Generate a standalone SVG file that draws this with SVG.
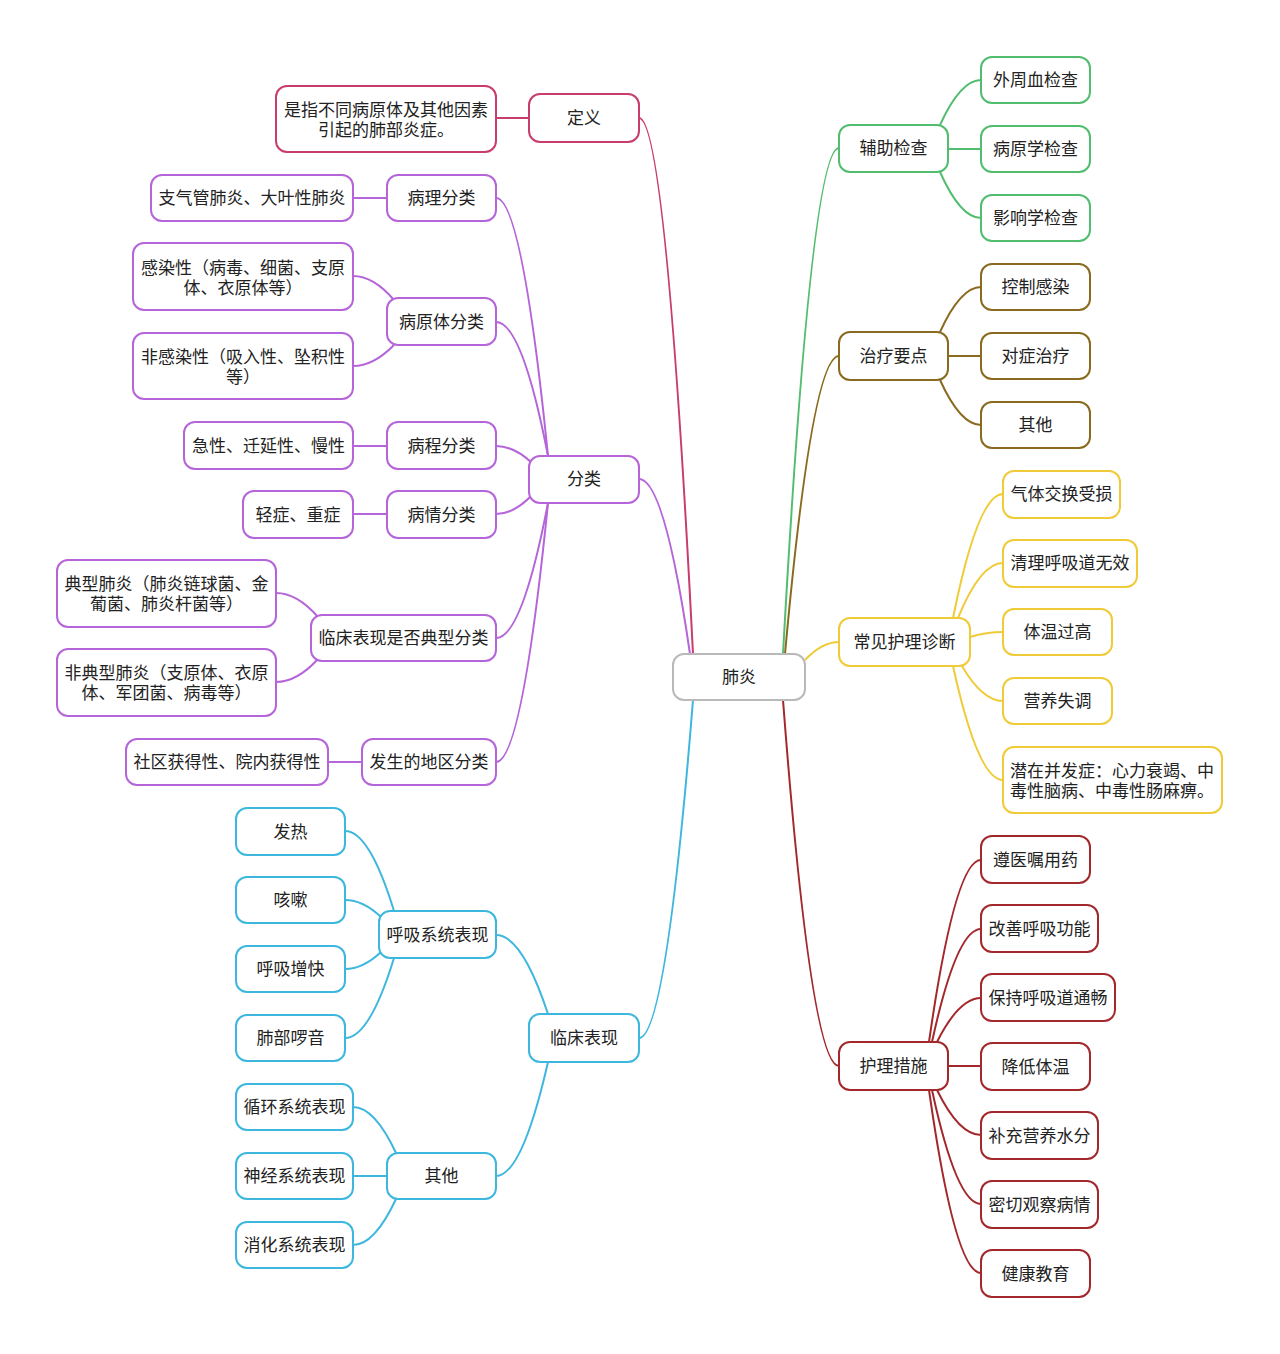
<svg xmlns="http://www.w3.org/2000/svg" width="1280" height="1354" viewBox="0 0 1280 1354">
<style>
text{font-family:"Noto Sans CJK SC","Noto Sans",sans-serif;font-size:17px;fill:#222;text-anchor:middle}
rect{fill:#fff;stroke-width:2}
path{fill:none;stroke-width:2}
.root rect{stroke:#b9b9b9}
.def rect{stroke:#c83c6e}.def path,path.def{stroke:#c83c6e}
.cls rect{stroke:#b565d9}path.cls{stroke:#b565d9}
.cli rect{stroke:#3db7de}path.cli{stroke:#3db7de}
.aux rect{stroke:#52bd6e}path.aux{stroke:#52bd6e}
.tre rect{stroke:#8a6a1e}path.tre{stroke:#8a6a1e}
.dia rect{stroke:#f0cb38}path.dia{stroke:#f0cb38}
.nur rect{stroke:#a3282c}path.nur{stroke:#a3282c}
</style>
<rect x="0" y="0" width="1280" height="1354" style="fill:#fff;stroke:none"/>
<g id="connectors">
<path class="def" d="M693 654 Q666 118 639 118"/>
<path class="cls" d="M690 654 Q664.5 479 639 479"/>
<path class="cli" d="M693 700 Q666 1038 639 1038"/>
<path class="aux" d="M783 654 Q811 148 839 148"/>
<path class="tre" d="M785 654 Q812 356 839 356"/>
<path class="dia" d="M805 660 Q822 642 839 642"/>
<path class="nur" d="M783 700 Q811 1066 839 1066"/>
<path class="def" d="M496 118 L529 118"/>
<path class="cls" d="M548 456 Q522 198 496 198"/>
<path class="cls" d="M548 456 Q522 322 496 322"/>
<path class="cls" d="M532 463 Q514 446 496 446"/>
<path class="cls" d="M532 495 Q514 514 496 514"/>
<path class="cls" d="M548 503 Q522 638 496 638"/>
<path class="cls" d="M548 503 Q522 762 496 762"/>
<path class="cls" d="M353 198 L387 198"/>
<path class="cls" d="M394 300 Q373.5 276 353 276"/>
<path class="cls" d="M394 345 Q373.5 366 353 366"/>
<path class="cls" d="M353 446 L387 446"/>
<path class="cls" d="M353 514 L387 514"/>
<path class="cls" d="M318 617 Q297 593 276 593"/>
<path class="cls" d="M318 659 Q297 682 276 682"/>
<path class="cls" d="M328 762 L362 762"/>
<path class="cli" d="M548 1014 Q522 935 496 935"/>
<path class="cli" d="M548 1062 Q522 1176 496 1176"/>
<path class="cli" d="M394 911 Q369.5 831 345 831"/>
<path class="cli" d="M381 917 Q363 900 345 900"/>
<path class="cli" d="M381 952 Q363 969 345 969"/>
<path class="cli" d="M394 958 Q369.5 1038 345 1038"/>
<path class="cli" d="M396 1153 Q374.5 1107 353 1107"/>
<path class="cli" d="M387 1176 L353 1176"/>
<path class="cli" d="M396 1199 Q374.5 1245 353 1245"/>
<path class="aux" d="M940 125 Q960.5 80 981 80"/>
<path class="aux" d="M948 149 L981 149"/>
<path class="aux" d="M940 172 Q960.5 218 981 218"/>
<path class="tre" d="M940 332 Q960.5 287 981 287"/>
<path class="tre" d="M948 356 L981 356"/>
<path class="tre" d="M940 380 Q960.5 425 981 425"/>
<path class="dia" d="M953 618 Q978 494 1003 494"/>
<path class="dia" d="M958 618 Q980.5 563 1003 563"/>
<path class="dia" d="M970 637 Q986.5 632 1003 632"/>
<path class="dia" d="M962 666 Q982.5 701 1003 701"/>
<path class="dia" d="M953 666 Q978 780 1003 780"/>
<path class="nur" d="M929 1042 Q955 860 981 860"/>
<path class="nur" d="M932 1042 Q956.5 929 981 929"/>
<path class="nur" d="M937 1042 Q959 998 981 998"/>
<path class="nur" d="M948 1066 L981 1066"/>
<path class="nur" d="M937 1090 Q959 1135 981 1135"/>
<path class="nur" d="M932 1090 Q956.5 1204 981 1204"/>
<path class="nur" d="M929 1090 Q955 1273 981 1273"/>
</g>
<g id="root" class="root"><rect x="673" y="654" width="132" height="46" rx="11"/><text x="739" y="683">肺炎</text></g>
<g id="n-def" class="def"><rect x="529" y="94" width="110" height="48" rx="11"/><text x="584" y="124">定义</text></g>
<g id="n-def-1" class="def"><rect x="276" y="86" width="220" height="66" rx="11"/><text x="386" y="116">是指不同病原体及其他因素</text><text x="386" y="136">引起的肺部炎症。</text></g>
<g id="n-cls" class="cls"><rect x="529" y="456" width="110" height="47" rx="11"/><text x="584" y="485">分类</text></g>
<g id="n-cls-1" class="cls"><rect x="387" y="175" width="109" height="46" rx="11"/><text x="441.5" y="204">病理分类</text></g>
<g id="n-cls-1-1" class="cls"><rect x="151" y="175" width="202" height="46" rx="11"/><text x="252" y="204">支气管肺炎、大叶性肺炎</text></g>
<g id="n-cls-2" class="cls"><rect x="387" y="298" width="109" height="47" rx="11"/><text x="441.5" y="328">病原体分类</text></g>
<g id="n-cls-2-1" class="cls"><rect x="133" y="243" width="220" height="67" rx="11"/><text x="243" y="274">感染性（病毒、细菌、支原</text><text x="243" y="294">体、衣原体等）</text></g>
<g id="n-cls-2-2" class="cls"><rect x="133" y="333" width="220" height="66" rx="11"/><text x="243" y="363">非感染性（吸入性、坠积性</text><text x="243" y="383">等）</text></g>
<g id="n-cls-3" class="cls"><rect x="387" y="422" width="109" height="47" rx="11"/><text x="441.5" y="452">病程分类</text></g>
<g id="n-cls-3-1" class="cls"><rect x="184" y="422" width="169" height="47" rx="11"/><text x="268.5" y="452">急性、迁延性、慢性</text></g>
<g id="n-cls-4" class="cls"><rect x="387" y="491" width="109" height="47" rx="11"/><text x="441.5" y="521">病情分类</text></g>
<g id="n-cls-4-1" class="cls"><rect x="243" y="491" width="110" height="47" rx="11"/><text x="298" y="521">轻症、重症</text></g>
<g id="n-cls-5" class="cls"><rect x="311" y="615" width="185" height="46" rx="11"/><text x="403.5" y="644">临床表现是否典型分类</text></g>
<g id="n-cls-5-1" class="cls"><rect x="57" y="560" width="219" height="67" rx="11"/><text x="166.5" y="590">典型肺炎（肺炎链球菌、金</text><text x="166.5" y="610">葡菌、肺炎杆菌等）</text></g>
<g id="n-cls-5-2" class="cls"><rect x="57" y="649" width="219" height="67" rx="11"/><text x="166.5" y="679">非典型肺炎（支原体、衣原</text><text x="166.5" y="699">体、军团菌、病毒等）</text></g>
<g id="n-cls-6" class="cls"><rect x="362" y="739" width="134" height="46" rx="11"/><text x="429" y="768">发生的地区分类</text></g>
<g id="n-cls-6-1" class="cls"><rect x="126" y="739" width="202" height="46" rx="11"/><text x="227" y="768">社区获得性、院内获得性</text></g>
<g id="n-cli" class="cli"><rect x="529" y="1014" width="110" height="48" rx="11"/><text x="584" y="1044">临床表现</text></g>
<g id="n-cli-1" class="cli"><rect x="379" y="911" width="117" height="47" rx="11"/><text x="437.5" y="941">呼吸系统表现</text></g>
<g id="n-cli-1-1" class="cli"><rect x="236" y="808" width="109" height="47" rx="11"/><text x="290.5" y="838">发热</text></g>
<g id="n-cli-1-2" class="cli"><rect x="236" y="877" width="109" height="46" rx="11"/><text x="290.5" y="906">咳嗽</text></g>
<g id="n-cli-1-3" class="cli"><rect x="236" y="946" width="109" height="46" rx="11"/><text x="290.5" y="975">呼吸增快</text></g>
<g id="n-cli-1-4" class="cli"><rect x="236" y="1015" width="109" height="46" rx="11"/><text x="290.5" y="1044">肺部啰音</text></g>
<g id="n-cli-2" class="cli"><rect x="387" y="1153" width="109" height="46" rx="11"/><text x="441.5" y="1182">其他</text></g>
<g id="n-cli-2-1" class="cli"><rect x="236" y="1084" width="117" height="46" rx="11"/><text x="294.5" y="1113">循环系统表现</text></g>
<g id="n-cli-2-2" class="cli"><rect x="236" y="1153" width="117" height="46" rx="11"/><text x="294.5" y="1182">神经系统表现</text></g>
<g id="n-cli-2-3" class="cli"><rect x="236" y="1222" width="117" height="46" rx="11"/><text x="294.5" y="1251">消化系统表现</text></g>
<g id="n-aux" class="aux"><rect x="839" y="125" width="109" height="47" rx="11"/><text x="893.5" y="154">辅助检查</text></g>
<g id="n-aux-1" class="aux"><rect x="981" y="57" width="109" height="46" rx="11"/><text x="1035.5" y="86">外周血检查</text></g>
<g id="n-aux-2" class="aux"><rect x="981" y="126" width="109" height="46" rx="11"/><text x="1035.5" y="155">病原学检查</text></g>
<g id="n-aux-3" class="aux"><rect x="981" y="195" width="109" height="46" rx="11"/><text x="1035.5" y="224">影响学检查</text></g>
<g id="n-tre" class="tre"><rect x="839" y="332" width="109" height="48" rx="11"/><text x="893.5" y="362">治疗要点</text></g>
<g id="n-tre-1" class="tre"><rect x="981" y="264" width="109" height="46" rx="11"/><text x="1035.5" y="293">控制感染</text></g>
<g id="n-tre-2" class="tre"><rect x="981" y="333" width="109" height="46" rx="11"/><text x="1035.5" y="362">对症治疗</text></g>
<g id="n-tre-3" class="tre"><rect x="981" y="402" width="109" height="46" rx="11"/><text x="1035.5" y="431">其他</text></g>
<g id="n-dia" class="dia"><rect x="839" y="618" width="131" height="48" rx="11"/><text x="904.5" y="648">常见护理诊断</text></g>
<g id="n-dia-1" class="dia"><rect x="1003" y="471" width="117" height="47" rx="11"/><text x="1061.5" y="500">气体交换受损</text></g>
<g id="n-dia-2" class="dia"><rect x="1003" y="540" width="134" height="47" rx="11"/><text x="1070" y="569">清理呼吸道无效</text></g>
<g id="n-dia-3" class="dia"><rect x="1003" y="609" width="109" height="46" rx="11"/><text x="1057.5" y="638">体温过高</text></g>
<g id="n-dia-4" class="dia"><rect x="1003" y="678" width="109" height="46" rx="11"/><text x="1057.5" y="707">营养失调</text></g>
<g id="n-dia-5" class="dia"><rect x="1003" y="747" width="219" height="66" rx="11"/><text x="1010" y="777" style="text-anchor:start">潜在并发症：心力衰竭、中</text><text x="1010" y="797" style="text-anchor:start">毒性脑病、中毒性肠麻痹。</text></g>
<g id="n-nur" class="nur"><rect x="839" y="1042" width="109" height="48" rx="11"/><text x="893.5" y="1072">护理措施</text></g>
<g id="n-nur-1" class="nur"><rect x="981" y="836" width="109" height="47" rx="11"/><text x="1035.5" y="866">遵医嘱用药</text></g>
<g id="n-nur-2" class="nur"><rect x="981" y="905" width="117" height="47" rx="11"/><text x="1039.5" y="935">改善呼吸功能</text></g>
<g id="n-nur-3" class="nur"><rect x="981" y="974" width="134" height="47" rx="11"/><text x="1048" y="1004">保持呼吸道通畅</text></g>
<g id="n-nur-4" class="nur"><rect x="981" y="1043" width="109" height="47" rx="11"/><text x="1035.5" y="1073">降低体温</text></g>
<g id="n-nur-5" class="nur"><rect x="981" y="1112" width="117" height="47" rx="11"/><text x="1039.5" y="1142">补充营养水分</text></g>
<g id="n-nur-6" class="nur"><rect x="981" y="1181" width="117" height="47" rx="11"/><text x="1039.5" y="1211">密切观察病情</text></g>
<g id="n-nur-7" class="nur"><rect x="981" y="1250" width="109" height="47" rx="11"/><text x="1035.5" y="1280">健康教育</text></g>
</svg>
